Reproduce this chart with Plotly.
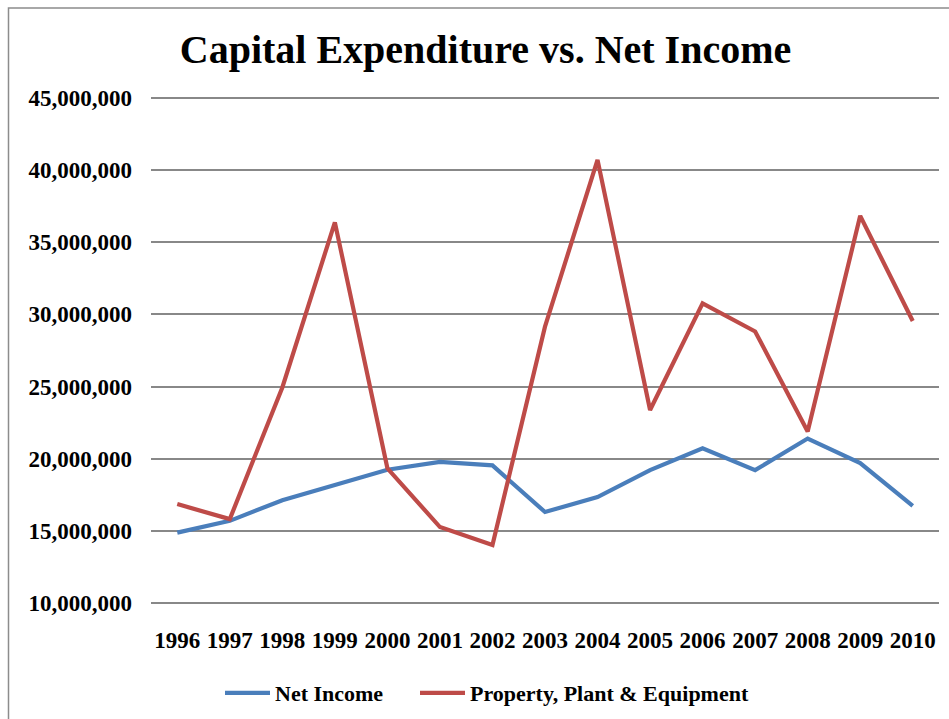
import plotly.graph_objects as go

# Fiscal years on the category axis
years = ["1996", "1997", "1998", "1999", "2000", "2001", "2002", "2003",
         "2004", "2005", "2006", "2007", "2008", "2009", "2010"]

# Annual net income
net_income = [14_880_000, 15_700_000, 17_130_000, 18_170_000, 19_240_000,
              19_780_000, 19_540_000, 16_310_000, 17_350_000, 19_210_000,
              20_730_000, 19_210_000, 21_400_000, 19_700_000, 16_740_000]

# Annual spending on property, plant & equipment
ppe_spend = [16_860_000, 15_820_000, 24_940_000, 36_380_000, 19_340_000,
             15_270_000, 14_030_000, 29_150_000, 40_710_000, 23_380_000,
             30_760_000, 28_820_000, 21_890_000, 36_830_000, 29_540_000]

y_ticks = [10_000_000, 15_000_000, 20_000_000, 25_000_000,
           30_000_000, 35_000_000, 40_000_000, 45_000_000]

W, H = 949, 719
ML, MR, MT, MB = 151, 10, 95.4, 112.8
PW, PH = W - ML - MR, H - MT - MB


def px_x(x):
    return (x - ML) / PW


def px_y(y):
    return 1 - (y - MT) / PH


FONT = "'Liberation Serif', 'Times New Roman', Times, serif"
LEGEND_FONT = dict(family=FONT, size=22, weight="bold", color="black")

fig = go.Figure()
fig.add_trace(go.Scatter(
    x=years, y=net_income, name="Net Income", mode="lines",
    line=dict(color="#4A7EBB", width=4.2), legend="legend",
))
fig.add_trace(go.Scatter(
    x=years, y=ppe_spend, name="Property, Plant & Equipment", mode="lines",
    line=dict(color="#BE4B48", width=4.2), legend="legend2",
))


def legend_box(left_px):
    # one entry per box, laid out in a single row under the plot
    return dict(
        orientation="h",
        x=px_x(left_px), xanchor="left",
        yref="container", y=1 - 693 / H, yanchor="middle",
        font=LEGEND_FONT,
        bgcolor="rgba(0,0,0,0)",
        itemwidth=45,
    )


fig.update_layout(
    width=W, height=H,
    margin=dict(l=ML, r=MR, t=MT, b=MB, pad=0, autoexpand=False),
    paper_bgcolor="white", plot_bgcolor="white",
    font=dict(family=FONT, color="black"),
    title=dict(
        text="Capital Expenditure vs. Net Income",
        font=dict(family=FONT, size=40, weight="bold", color="black"),
        xref="container", x=485.5 / W, xanchor="center",
        yref="container", y=1 - 48.5 / H, yanchor="middle",
    ),
    showlegend=True,
    legend=legend_box(220),
    legend2=legend_box(415),
    shapes=[dict(
        type="rect", xref="paper", yref="paper",
        x0=px_x(8.5), x1=px_x(W + 10),
        y0=px_y(H + 10), y1=px_y(8.5),
        line=dict(color="#8c8c8c", width=1.5),
        fillcolor="rgba(0,0,0,0)", layer="below",
    )],
)

fig.update_xaxes(
    type="category", range=[-0.5, 14.5], automargin=False,
    showgrid=False, zeroline=False, showline=False,
    ticks="", ticklabelstandoff=18,
    tickfont=dict(family=FONT, size=23, weight="bold", color="black"),
)
fig.update_yaxes(
    range=[9_800_000, 45_200_000], automargin=False,
    tickvals=y_ticks, tickformat=",d",
    showgrid=True, gridcolor="#888888", gridwidth=1.5,
    zeroline=False, showline=False,
    ticks="", ticklabelstandoff=18,
    tickfont=dict(family=FONT, size=23, weight="bold", color="black"),
)

fig.write_html("out.html")
